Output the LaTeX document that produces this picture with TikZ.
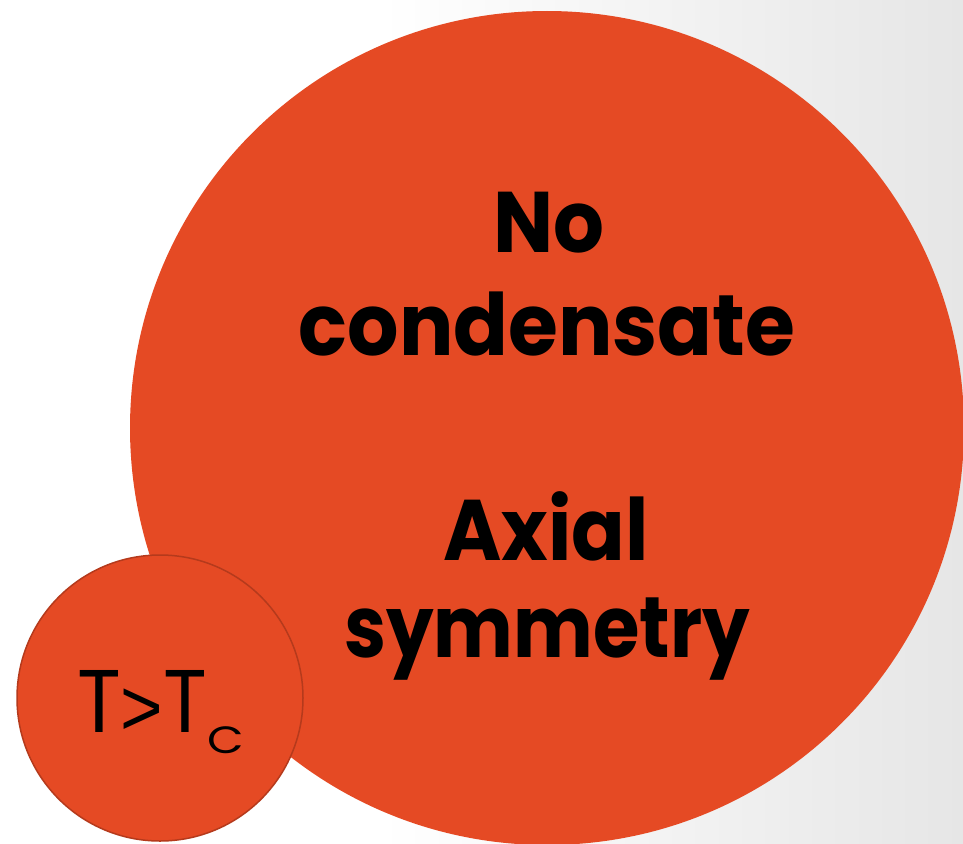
\documentclass[tikz,border=0pt]{standalone}
\usepackage{fontspec}
\newfontfamily\popb{Poppins}[UprightFont=*-Bold]
\newfontfamily\popr{Poppins}
\newfontfamily\libs{Liberation Sans}
\definecolor{circfill}{HTML}{E54A24}
\definecolor{circline}{HTML}{B53A1C}
\definecolor{bgright}{HTML}{E6E6E6}
\begin{document}
\begin{tikzpicture}[x=1pt,y=-1pt,
  bigtext/.style={anchor=base,inner sep=0pt,font=\popb\fontsize{86}{86}\selectfont,text=black},
  bigcirc/.style={circle,fill=circfill,draw=none,inner sep=0pt},
  smallcirc/.style={circle,fill=circfill,draw=circline,line width=1.5pt,inner sep=0pt}]
\useasboundingbox (0,0) rectangle (963,843);
\fill[white] (0,0) rectangle (963,843);
\shade[left color=white,right color=bgright] (380,0) rectangle (963,843);
\node[bigcirc,minimum size=834pt] (big) at (547,428) {};
\node[smallcirc,minimum size=286pt] (small) at (160,698) {};
\node[bigtext] (l1) at (549,252) {\scalebox{0.93}[1]{No}};
\node[bigtext] (l2) at (547,355) {\scalebox{0.94}[1]{condensate}};
\node[bigtext] (l3) at (546,560) {\scalebox{0.92}[1]{Axial}};
\node[bigtext] (l4) at (547,657) {\scalebox{0.875}[1]{symmetry}};
\node[anchor=base,inner sep=0pt,font=\popr\fontsize{89}{89}\selectfont] (tc) at (160.5,732)
  {\scalebox{0.91}[1]{T{\libs\fontsize{80}{80}\selectfont\raisebox{-3pt}{>}}T}\raisebox{-21pt}{\fontsize{38}{38}\selectfont\scalebox{1.25}[1]{C}}};
\end{tikzpicture}
\end{document}
